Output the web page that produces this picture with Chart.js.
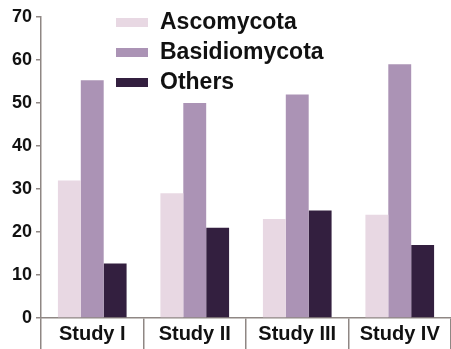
<!DOCTYPE html>
<html>
<head>
<meta charset="utf-8">
<script src="https://cdn.jsdelivr.net/npm/chart.js@4/dist/chart.umd.min.js"></script>
<style>
    html, body { margin: 0; padding: 0; background: #fff; }
    #wrap { position: relative; width: 451px; height: 349px; }
    #legend { position: absolute; left: 116px; top: 6px; font: bold 23px "Liberation Sans", Arial, sans-serif; color: #111; }
    #legend .row { height: 30px; line-height: 30px; white-space: nowrap; }
    #legend .sw { display: inline-block; width: 32px; height: 9px; margin-right: 12px; vertical-align: 2px; }
</style>
</head>
<body>
<div id="wrap">
    <canvas id="chart" width="451" height="349"></canvas>
    <div id="legend"></div>
</div>
<script>
// Data
const studies = ['Study I', 'Study II', 'Study III', 'Study IV'];
const ascomycota = [32, 29, 23, 24];
const basidiomycota = [55.3, 50, 52, 59];
const others = [12.7, 21, 25, 17];
const seriesNames = ['Ascomycota', 'Basidiomycota', 'Others'];
const seriesColors = ['#e8d8e3', '#ab93b5', '#331f3f'];

const axisColor = '#8f8784';
const tickFont = { family: '"Liberation Sans", Arial, sans-serif', size: 18, weight: 'bold' };

const chart = new Chart(document.getElementById('chart'), {
    type: 'bar',
    data: {
        labels: studies,
        datasets: [ascomycota, basidiomycota, others].map((vals, i) => ({
            label: seriesNames[i],
            data: vals,
            backgroundColor: seriesColors[i],
            borderWidth: 0,
            categoryPercentage: 0.67,
            barPercentage: 1.0,
        })),
    },
    options: {
        responsive: false,
        animation: false,
        layout: { padding: { top: 17, right: 0, left: 0, bottom: 0 } },
        plugins: { legend: { display: false }, tooltip: { enabled: false } },
        scales: {
            x: {
                grid: { display: true, drawOnChartArea: false, offset: true, tickLength: 31, color: axisColor, lineWidth: 1.5 },
                border: { color: axisColor, width: 1.5 },
                ticks: { color: '#111', font: { ...tickFont, size: 20 }, padding: -27 },
                afterFit: s => { s.height = 31; },
            },
            y: {
                min: 0, max: 70,
                grid: { display: true, drawOnChartArea: false, tickLength: 5, color: axisColor, lineWidth: 1.5 },
                border: { color: axisColor, width: 1.5 },
                ticks: { stepSize: 10, color: '#111', font: tickFont, padding: 4 },
                afterFit: s => { s.width = 41; },
            },
        },
    },
});

// Vertical legend, top-left inside the plot
document.getElementById('legend').innerHTML = seriesNames.map((n, i) =>
    `<div class="row"><span class="sw" style="background:${seriesColors[i]}"></span>${n}</div>`
).join('');
</script>
</body>
</html>
